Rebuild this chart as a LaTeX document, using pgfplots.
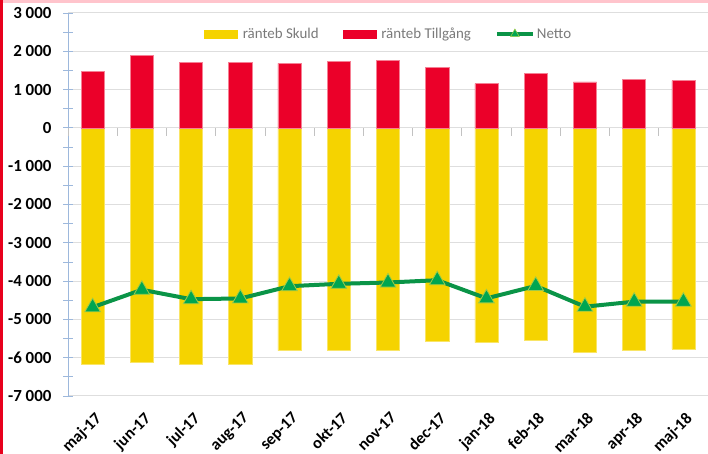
\documentclass[border=0pt]{standalone}
\usepackage{pgfplots}
\pgfplotsset{compat=1.18}
\usepackage{pgfplotstable}
\usepackage{fontspec}
\setmainfont{Carlito}
\definecolor{skuld}{HTML}{F5D300}
\definecolor{tillg}{HTML}{EB0029}
\definecolor{netto}{HTML}{0A9447}
\definecolor{nettomark}{HTML}{00A651}
\definecolor{nettoedge}{HTML}{9CCB4A}
\definecolor{axblue}{HTML}{9DB8DC}
\definecolor{gridgray}{HTML}{DEDEDE}
\definecolor{legtext}{HTML}{7A7A7A}
\definecolor{bordred}{HTML}{E8001C}
\definecolor{bandpink}{HTML}{FFC4CC}

\pgfplotstableread{
x skuld tillg netto
0  -6165 1482 -4683
1  -6122 1895 -4227
2  -6183 1711 -4472
3  -6165 1711 -4454
4  -5817 1684 -4133
5  -5817 1746 -4071
6  -5800 1763 -4037
7  -5565 1588 -3977
8  -5609 1158 -4451
9  -5548 1421 -4127
10 -5870 1202 -4668
11 -5800 1263 -4537
12 -5774 1237 -4537
}\data

\begin{document}
\begin{tikzpicture}[x=1bp,y=1bp]
\path[use as bounding box] (0,0) rectangle (708,454);
\fill[white] (0,0) rectangle (708,454);
\fill[bandpink] (0,451) rectangle (708,454);
\fill[bordred] (0,0) rectangle (3,454);

\begin{axis}[
  at={(68bp,58bp)}, anchor=south west,
  scale only axis, width=640bp, height=383bp,
  xmin=-0.5, xmax=12.5, ymin=-7000, ymax=3000,
  axis y line*=left, axis x line*=bottom,
  x axis line style={gridgray, line width=1bp},
  y axis line style={axblue, line width=1bp},
  xtick={0,...,12},
  xticklabels={maj-17,jun-17,jul-17,aug-17,sep-17,okt-17,nov-17,dec-17,jan-18,feb-18,mar-18,apr-18,maj-18},
  xtick style={draw=none},
  xticklabel style={rotate=45, anchor=north east, font=\fontsize{16.5}{17}\selectfont\bfseries, black, inner sep=0pt, xshift=-6bp, yshift=-8bp},
  ytick={-7000,-6000,...,3000},
  yticklabels={-7 000,-6 000,-5 000,-4 000,-3 000,-2 000,-1 000,0,1 000,2 000,3 000},
  yticklabel style={font=\fontsize{17}{17}\selectfont\bfseries, black, xshift=-8bp},
  minor y tick num=1,
  ytick style={axblue, line width=0.8bp},
  major tick length=10bp, minor tick length=10bp, tick align=center,
  ymajorgrids, grid style={gridgray, line width=1bp},
  legend columns=3,
  legend style={draw=none, fill=none, at={(0.2125,0.945)}, anchor=west,
    font=\fontsize{15}{15}\selectfont, text=legtext, inner sep=0pt,
    /tikz/every even column/.append style={column sep=22bp}},
]
\addplot[ybar, bar width=0.47, bar shift=0pt, fill=skuld, draw=skuld!60!white, line width=0.6bp,
  legend image code/.code={\fill[skuld] (0bp,-4bp) rectangle (33bp,4bp); \path (36bp,0bp);}]
  table[x=x,y=skuld]{\data};
\addlegendentry{ränteb Skuld}
\addplot[ybar, bar width=0.47, bar shift=0pt, fill=tillg, draw=tillg!50!white, line width=0.6bp,
  legend image code/.code={\fill[tillg] (0bp,-4bp) rectangle (33bp,4bp); \path (36bp,0bp);}]
  table[x=x,y=tillg]{\data};
\addlegendentry{ränteb Tillgång}
\addplot[netto, line width=4bp, mark=triangle*, mark size=9bp,
  mark options={fill=nettomark, draw=nettoedge, line width=0.8bp},
  legend image code/.code={\draw[netto, line width=4bp] (0bp,0bp) -- (36bp,0bp);
    \path[mark=triangle*, mark size=5bp, mark options={fill=nettomark, draw=nettoedge, line width=0.6bp}] plot coordinates {(18bp,0bp)};}]
  table[x=x,y=netto]{\data};
\addlegendentry{Netto}
\end{axis}

\begin{axis}[
  at={(68bp,58bp)}, anchor=south west,
  scale only axis, width=640bp, height=383bp,
  xmin=-0.5, xmax=12.5, ymin=-7000, ymax=3000,
  axis x line*=middle, axis y line=none,
  x axis line style={draw=none},
  xtick={-0.5,0.5,...,12.5}, xticklabels={},
  xtick style={gridgray!70!gray, line width=0.8bp},
  major tick length=8bp, tick align=outside,
]
\end{axis}
\end{tikzpicture}
\end{document}
